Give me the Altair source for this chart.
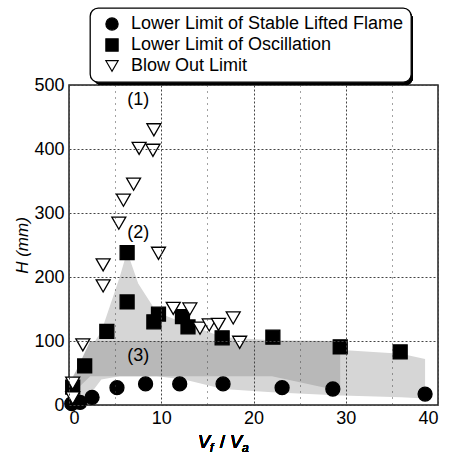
import altair as alt
import pandas as pd

FONT = "Liberation Sans"

series_names = ["Lower Limit of Stable Lifted Flame", "Lower Limit of Oscillation", "Blow Out Limit"]

stable_x = [0.3, 1.2, 2.5, 5.2, 8.3, 12.0, 16.7, 23.1, 28.6, 38.6]
stable_y = [2, 4, 12, 27, 33, 33, 33, 27, 25, 17]

osc_x = [0.4, 1.7, 4.1, 6.3, 6.3, 9.2, 9.7, 12.3, 12.9, 16.6, 22.1, 29.4, 35.9]
osc_y = [28, 61, 115, 161, 238, 130, 142, 138, 122, 105, 106, 91, 83]

blow_x = [0.4, 0.4, 1.5, 3.7, 3.7, 5.4, 5.9, 7.0, 7.6, 9.1, 9.2, 9.7, 11.3, 13.1, 14.2, 15.2, 16.2, 17.8, 18.5]
blow_y = [34, 11, 94, 186, 219, 284, 320, 345, 401, 398, 430, 237, 151, 150, 120, 125, 126, 136, 98]

# shaded regions
light_x = [0.2, 1.7, 3.5, 5.5, 6.3, 7.5, 9.5, 12.5, 16.7, 22.0, 29.4, 29.6, 36.0, 38.6]
light_top = [40, 75, 115, 200, 240, 190, 145, 128, 106, 101, 100, 86, 80, 72]
light_bot = [0, 5, 40, 45, 45, 45, 45, 40, 25, 20, 15, 15, 12, 10]

dark_x = [0.5, 2.3, 22.0, 29.4]
dark_top = [45, 100, 100, 100]
dark_bot = [20, 45, 45, 22]

label_text = ["(1)", "(2)", "(3)"]
label_x = [7.5, 7.5, 7.5]
label_y = [476, 268, 76]

points = pd.concat([
    pd.DataFrame({"x": stable_x, "y": stable_y, "series": series_names[0]}),
    pd.DataFrame({"x": osc_x, "y": osc_y, "series": series_names[1]}),
    pd.DataFrame({"x": blow_x, "y": blow_y, "series": series_names[2]}),
])
light_df = pd.DataFrame({"x": light_x, "top": light_top, "bot": light_bot})
dark_df = pd.DataFrame({"x": dark_x, "top": dark_top, "bot": dark_bot})
labels_df = pd.DataFrame({"t": label_text, "x": label_x, "y": label_y})

xscale = alt.Scale(domain=[0, 40], nice=False)
yscale = alt.Scale(domain=[0, 500], nice=False)

xaxis = alt.Axis(
    values=list(range(0, 41, 5)), labelExpr="datum.value % 10 === 0 ? datum.label : ''",
    title=None, ticks=False, domain=False, labelFont=FONT, labelFontSize=18, labelColor="black",
    labelPadding=4, gridColor="#444", gridWidth=1,
    gridDash=alt.condition("datum.value % 10 === 0", alt.value([2, 2]), alt.value([1, 5])),
    gridOpacity=1, zindex=1,
)
yaxis = alt.Axis(
    values=list(range(0, 501, 50)), labelExpr="datum.value % 100 === 0 ? datum.label : ''",
    title="H (mm)", titleFont=FONT, titleFontSize=17, titleFontStyle="italic", titleFontWeight="normal",
    titleColor="black", titlePadding=2,
    ticks=False, domain=False, labelFont=FONT, labelFontSize=18, labelColor="black",
    labelPadding=5, gridColor="#444", gridWidth=1,
    gridDash=alt.condition("datum.value % 100 === 0", alt.value([2, 2]), alt.value([1, 5])),
    gridOpacity=1, zindex=1,
)

light = alt.Chart(light_df).mark_area(color="#d6d6d6", opacity=1).encode(
    x=alt.X("x:Q", scale=xscale, axis=xaxis),
    y=alt.Y("top:Q", scale=yscale, axis=yaxis),
    y2="bot:Q",
)
dark = alt.Chart(dark_df).mark_area(color="#b8b8b8", opacity=1).encode(
    x=alt.X("x:Q", scale=xscale),
    y=alt.Y("top:Q", scale=yscale),
    y2="bot:Q",
)

leg = alt.Legend(title=None)
pts = alt.Chart(points).mark_point(strokeWidth=1.3, opacity=1).encode(
    x=alt.X("x:Q", scale=xscale),
    y=alt.Y("y:Q", scale=yscale),
    shape=alt.Shape("series:N", scale=alt.Scale(domain=series_names, range=["circle", "square", "triangle-down"]), legend=leg),
    fill=alt.Fill("series:N", scale=alt.Scale(domain=series_names, range=["black", "black", "white"]), legend=leg),
    stroke=alt.Stroke("series:N", scale=alt.Scale(domain=series_names, range=["black", "black", "black"]), legend=leg),
    size=alt.value(195),
)

region_labels = alt.Chart(labels_df).mark_text(font=FONT, fontSize=18, color="black").encode(
    x=alt.X("x:Q", scale=xscale),
    y=alt.Y("y:Q", scale=yscale),
    text="t:N",
)

shadow = alt.Chart(light_df).mark_rect(color="black", cornerRadius=8).encode(
    x=alt.value(25), x2=alt.value(344), y=alt.value(-73), y2=alt.value(0),
)

def tx(text, x, y, size, italic=True):
    return alt.Chart(light_df).mark_text(
        text=text, font=FONT, fontSize=size, fontStyle="italic" if italic else "normal",
        align="left", baseline="alphabetic", color="black",
    ).encode(x=alt.value(x), y=alt.value(y))

xtitle = (
    tx("V", 129, 363, 18)
    + tx("f", 141, 367, 12)
    + tx("/", 151, 363, 18, False)
    + tx("V", 161, 363, 18)
    + tx("a", 173, 367, 12)
)

chart = alt.layer(shadow, light, dark, region_labels, pts, xtitle).properties(
    width=369, height=320,
    autosize=alt.AutoSizeParams(type="none"),
    padding={"left": 69, "top": 85, "right": 13, "bottom": 52},
    background="white",
).configure_view(
    stroke="#222", strokeWidth=1.5,
).configure_legend(
    orient="none", legendX=21, legendY=-77,
    strokeColor="black", strokeWidth=1.3, fillColor="white", cornerRadius=8,
    padding=7, labelFont=FONT, labelFontSize=18, labelColor="black", labelOffset=10,
    labelLimit=500,
    symbolSize=150, symbolStrokeWidth=1.2, rowPadding=3,
    symbolOffset=6,
)

chart.save("out.html", embed_options={"renderer": "svg", "actions": False})
